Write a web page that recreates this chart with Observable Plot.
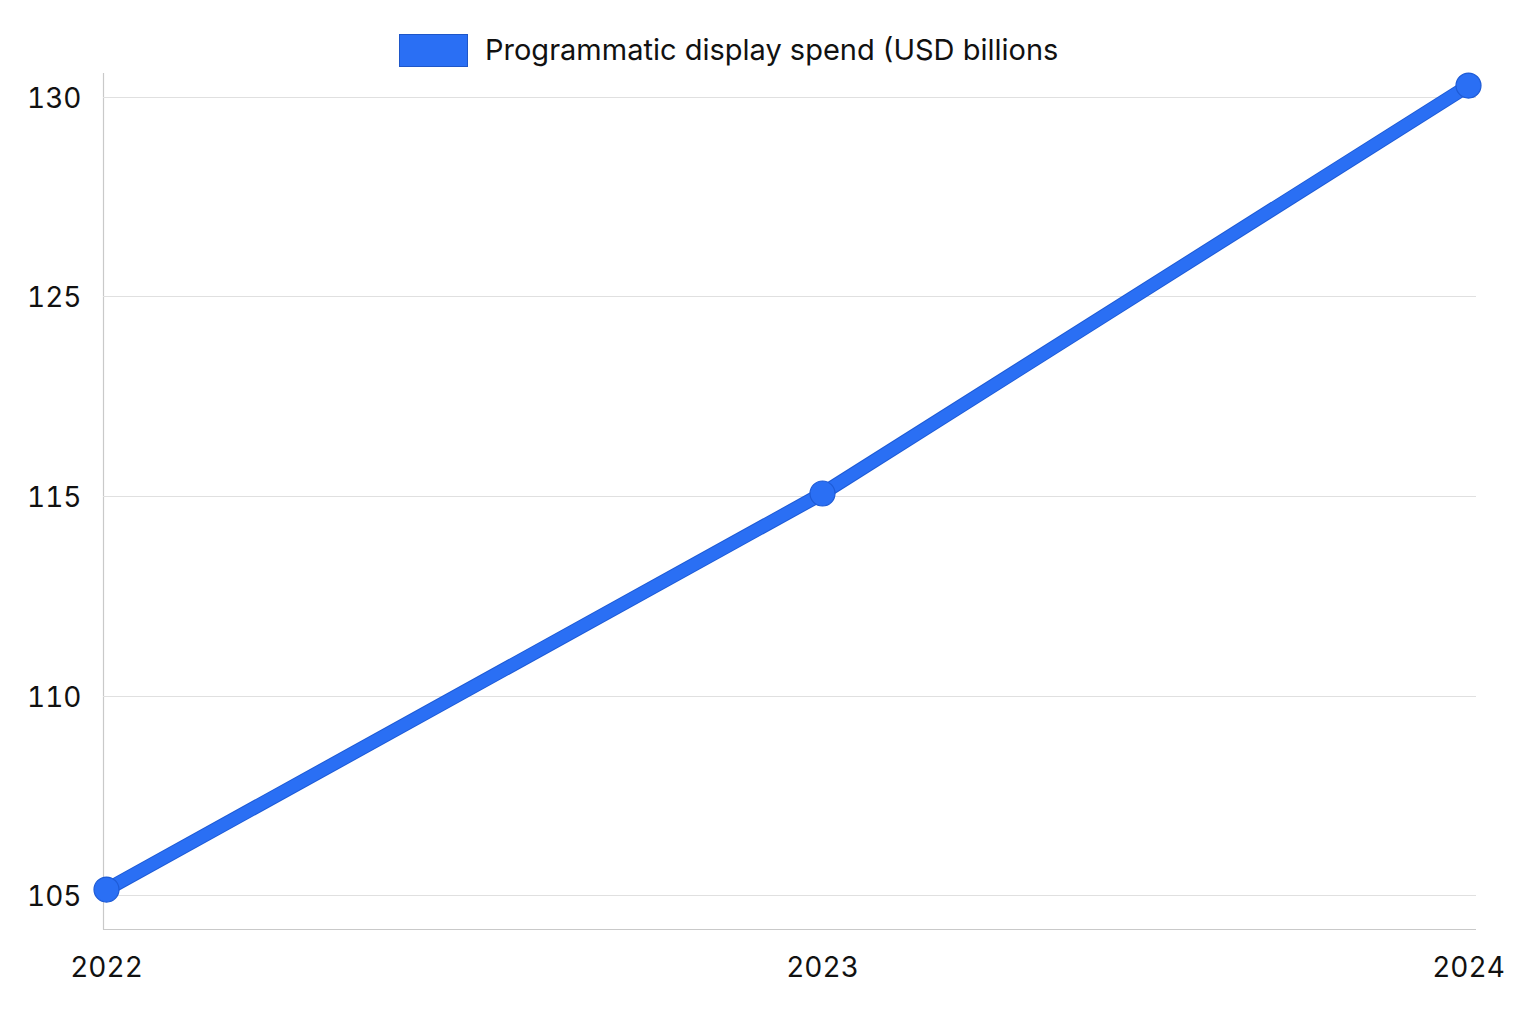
<!DOCTYPE html>
<html>
<head>
<meta charset="utf-8">
<script src="https://cdn.jsdelivr.net/npm/d3@7"></script>
<script src="https://cdn.jsdelivr.net/npm/@observablehq/plot@0.6"></script>
<style>
  html, body { margin: 0; padding: 0; background: #fff; }
  body { width: 1536px; height: 1024px; overflow: hidden; font-family: Inter, "Liberation Sans", sans-serif; }
  #legend { position: relative; height: 60px; width: 1536px; }
  #legend .swatch { position: absolute; left: 399px; top: 34px; width: 67px; height: 31px; background: #2a6ff4; border: 1px solid #1e56c8; }
  #legend .label { position: absolute; left: 485px; top: 30px; font-size: 29px; line-height: 40px; color: #111; white-space: nowrap; }
  #chart svg { display: block; }
</style>
</head>
<body>
<div id="legend"><div class="swatch"></div><div class="label" id="legendLabel"></div></div>
<div id="chart"></div>
<script>
const seriesName = "Programmatic display spend (USD billions";
const years = [2022, 2023, 2024];
const spend = [105.15, 115.15, 130.3];
const yTicks = [105, 110, 115, 125, 130];
const xTicks = [2022, 2023, 2024];

document.getElementById("legendLabel").textContent = seriesName;

const data = years.map((year, i) => ({year, value: spend[i]}));

const W = 1536, H = 964;
const blue = "#2a6ff4", blueDark = "#1e5bd6";

const chart = Plot.plot({
  width: W,
  height: H,
  marginLeft: 103,
  marginRight: 60,
  marginTop: 13,
  marginBottom: 95,
  style: {fontFamily: "Inter, 'Liberation Sans', sans-serif", fontSize: "28px", color: "#111", background: "#fff"},
  x: {type: "linear", domain: xTicks, range: [106, 822, 1468]},
  y: {type: "linear", domain: yTicks, range: [835, 636, 436, 236, 37]},
  marks: [
    Plot.ruleY(yTicks, {stroke: "#e0e0e0", strokeWidth: 1}),
    Plot.axisY({ticks: yTicks, tickSize: 0, tickPadding: 22, dy: 2, tickFormat: d => String(d), label: null, fontSize: 28, fill: "#111"}),
    Plot.axisX({ticks: xTicks, tickSize: 0, tickPadding: 28, tickFormat: d => String(d), label: null, fontSize: 28, fill: "#111"}),
    Plot.line(data, {x: "year", y: "value", stroke: blueDark, strokeWidth: 14, strokeLinejoin: "round", strokeLinecap: "round"}),
    Plot.line(data, {x: "year", y: "value", stroke: blue, strokeWidth: 12, strokeLinejoin: "round", strokeLinecap: "round"}),
    Plot.dot(data, {x: "year", y: "value", r: 12.5, fill: blue, stroke: blueDark, strokeWidth: 1.2})
  ]
});

// axis frame lines (left and bottom)
d3.select(chart).insert("g", ":first-child")
  .call(g => g.append("line").attr("x1", 103.5).attr("x2", 103.5).attr("y1", 13).attr("y2", 869.5).attr("stroke", "#c9c9c9").attr("stroke-width", 1.2))
  .call(g => g.append("line").attr("x1", 103).attr("x2", 1476).attr("y1", 869.5).attr("y2", 869.5).attr("stroke", "#c9c9c9").attr("stroke-width", 1.2));

document.getElementById("chart").appendChild(chart);
</script>
</body>
</html>
